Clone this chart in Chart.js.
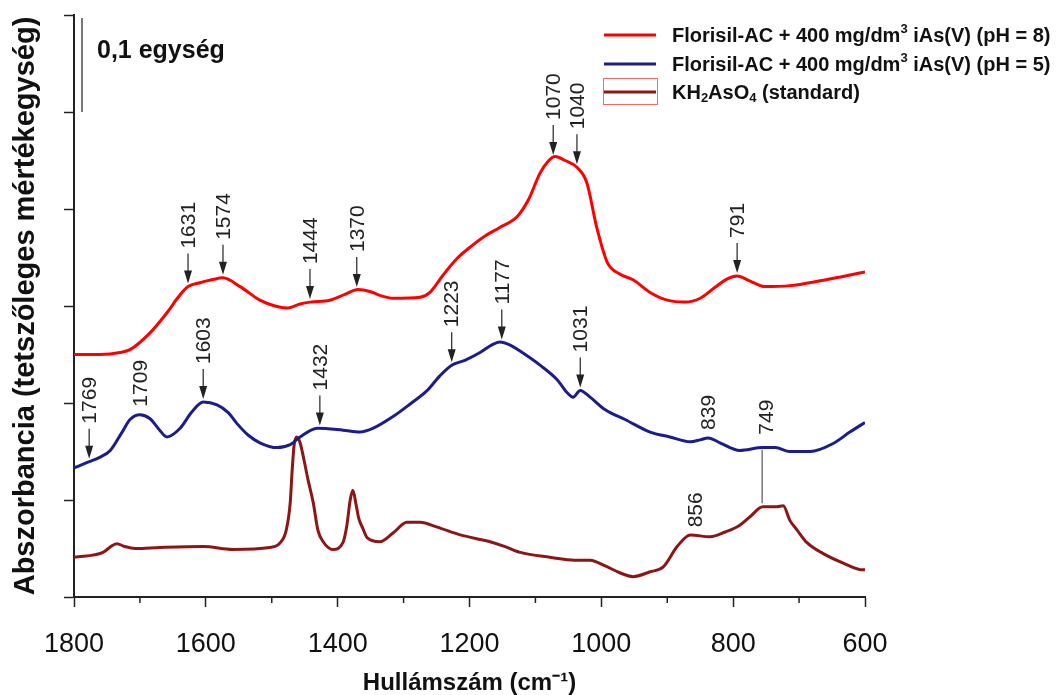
<!DOCTYPE html>
<html>
<head>
<meta charset="utf-8">
<title>FTIR spektrumok</title>
<script src="https://cdn.jsdelivr.net/npm/chart.js@4.4.1/dist/chart.umd.min.js"></script>
<style>
  body { margin: 0; background: #fff; }
  canvas { display: block; }
</style>
</head>
<body>
<canvas id="spektrum" width="1058" height="695"></canvas>
<script>
// hullámszám (cm-1) és abszorbancia értékek, leolvasva

// Florisil-AC + 400 mg/dm3 iAs(V), pH = 8
var ph8X = [1800, 1761, 1730, 1715, 1685, 1659, 1642, 1627, 1609, 1591, 1574, 1548, 1518, 1495, 1477, 1457,
            1442, 1412, 1389, 1369, 1351, 1336, 1316, 1275, 1260, 1240, 1219, 1204, 1177, 1154, 1128, 1111,
            1093, 1081, 1070, 1055, 1037, 1022, 1007, 991, 972, 952, 926, 900, 873, 850, 828, 809, 794, 775,
            752, 714, 668, 630, 600];
var ph8Y = [0.250, 0.250, 0.252, 0.255, 0.272, 0.293, 0.309, 0.320, 0.324, 0.327, 0.329, 0.320, 0.306, 0.300, 0.298, 0.302,
            0.304, 0.306, 0.312, 0.317, 0.315, 0.311, 0.308, 0.309, 0.314, 0.332, 0.349, 0.358, 0.372, 0.381, 0.392, 0.409,
            0.437, 0.449, 0.454, 0.450, 0.443, 0.427, 0.381, 0.345, 0.333, 0.327, 0.314, 0.306, 0.304, 0.308, 0.319, 0.328, 0.331, 0.326,
            0.320, 0.321, 0.326, 0.331, 0.335];

// Florisil-AC + 400 mg/dm3 iAs(V), pH = 5
var ph5X = [1800, 1779, 1761, 1745, 1727, 1715, 1700, 1685, 1670, 1659, 1639, 1621, 1604, 1583, 1566, 1553,
            1536, 1518, 1492, 1472, 1457, 1431, 1392, 1366, 1346, 1316, 1290, 1264, 1245, 1227, 1207, 1184,
            1166, 1154, 1139, 1120, 1093, 1067, 1051, 1043, 1032, 1017, 994, 964, 926, 896, 865, 850, 838,
            820, 790, 755, 736, 714, 683, 649, 623, 600];
var ph5Y = [0.133, 0.139, 0.144, 0.151, 0.170, 0.183, 0.188, 0.184, 0.172, 0.165, 0.174, 0.191, 0.201, 0.198, 0.190, 0.179,
            0.167, 0.159, 0.154, 0.157, 0.165, 0.174, 0.172, 0.170, 0.174, 0.186, 0.199, 0.213, 0.228, 0.239, 0.244, 0.252,
            0.260, 0.263, 0.260, 0.252, 0.239, 0.224, 0.210, 0.206, 0.213, 0.206, 0.193, 0.183, 0.170, 0.165, 0.160, 0.162, 0.164,
            0.159, 0.151, 0.154, 0.154, 0.150, 0.150, 0.158, 0.170, 0.180];

// KH2AsO4 (standard)
var stdX = [1800, 1756, 1742, 1735, 1723, 1707, 1670, 1604, 1559, 1503, 1487, 1478, 1472, 1469, 1466, 1462,
            1457, 1451, 1445, 1437, 1430, 1422, 1407, 1392, 1386, 1381, 1377, 1372, 1368, 1362, 1355, 1336,
            1316, 1295, 1275, 1249, 1214, 1169, 1146, 1123, 1078, 1040, 1017, 994, 972, 952, 926, 906, 885,
            865, 835, 812, 790, 774, 755, 734, 724, 714, 703, 688, 664, 633, 603, 600];
var stdY = [0.041, 0.046, 0.053, 0.055, 0.052, 0.050, 0.051, 0.052, 0.049, 0.051, 0.056, 0.069, 0.097, 0.131, 0.157, 0.165,
            0.159, 0.141, 0.121, 0.097, 0.069, 0.057, 0.049, 0.056, 0.074, 0.100, 0.110, 0.095, 0.081, 0.071, 0.061, 0.057,
            0.066, 0.077, 0.077, 0.072, 0.064, 0.057, 0.052, 0.046, 0.041, 0.038, 0.038, 0.032, 0.025, 0.021, 0.026, 0.031, 0.052,
            0.064, 0.062, 0.067, 0.074, 0.083, 0.093, 0.093, 0.094, 0.079, 0.069, 0.056, 0.045, 0.035, 0.028, 0.028];

// csúcsjelölések: felirat, hullámszám, melyik görbe (0 = pH 8, 1 = pH 5, 2 = standard)
var csucsok = [
    { text: '1631', at: 1627, sorozat: 0, nyil: true },
    { text: '1574', at: 1574, sorozat: 0, nyil: true },
    { text: '1444', at: 1442, sorozat: 0, nyil: true },
    { text: '1370', at: 1371, sorozat: 0, nyil: true },
    { text: '1070', at: 1073, sorozat: 0, nyil: true },
    { text: '1040', at: 1037, sorozat: 0, nyil: true },
    { text: '791',  at: 794,  sorozat: 0, nyil: true },
    { text: '1769', at: 1777, sorozat: 1, nyil: true },
    { text: '1709', at: 1700, sorozat: 1, nyil: false },
    { text: '1603', at: 1604, sorozat: 1, nyil: true },
    { text: '1432', at: 1427, sorozat: 1, nyil: true },
    { text: '1223', at: 1227, sorozat: 1, nyil: true },
    { text: '1177', at: 1151, sorozat: 1, nyil: true },
    { text: '1031', at: 1032, sorozat: 1, nyil: true },
    { text: '839',  at: 838,  sorozat: 1, nyil: false },
    { text: '856',  at: 858,  sorozat: 2, nyil: false }
];
// 749: vonal a pH 5 görbétől a standardig
var kozosCsucs = { text: '749', at: 756 };

var szinek = ['#ff0000', '#1c1c8c', '#8c1616'];
var sorozatX = [ph8X, ph5X, stdX];
var sorozatY = [ph8Y, ph5Y, stdY];

function pontok(xs, ys) {
    return xs.map(function (x, i) { return { x: x, y: ys[i] }; });
}

// lineáris interpoláció a görbén
function ertekNal(s, wn) {
    var xs = sorozatX[s], ys = sorozatY[s];
    for (var i = 0; i < xs.length - 1; i++) {
        if (wn <= xs[i] && wn >= xs[i + 1]) {
            var t = (xs[i] - wn) / (xs[i] - xs[i + 1]);
            return ys[i] + t * (ys[i + 1] - ys[i]);
        }
    }
    return ys[ys.length - 1];
}

var FONT = "'Liberation Sans', Arial, sans-serif";
Chart.defaults.font.family = FONT;

function forgatottSzoveg(ctx, text, x, yAlso) {
    ctx.save();
    ctx.translate(x, yAlso);
    ctx.rotate(-Math.PI / 2);
    ctx.textAlign = 'left';
    ctx.textBaseline = 'middle';
    ctx.fillText(text, 0, 0);
    ctx.restore();
}

// felső-/alsó indexes szöveg rajzolása
function gazdagSzoveg(ctx, reszek, x, y, meret) {
    reszek.forEach(function (r) {
        var m = r[1] ? meret * 0.65 : meret;
        var dy = r[1] === 'sup' ? -meret * 0.35 : (r[1] === 'sub' ? meret * 0.28 : 0);
        ctx.font = 'bold ' + m + 'px ' + FONT;
        ctx.fillText(r[0], x, y + dy);
        x += ctx.measureText(r[0]).width;
    });
}

var jelolesek = {
    id: 'jelolesek',
    afterDraw: function (chart) {
        var ctx = chart.ctx;
        var xs = chart.scales.x, ys = chart.scales.y;

        // kisebb osztások az x tengelyen
        ctx.save();
        ctx.strokeStyle = '#222';
        ctx.lineWidth = 1.5;
        for (var v = 700; v < 1800; v += 200) {
            var px = xs.getPixelForValue(v);
            ctx.beginPath();
            ctx.moveTo(px, chart.chartArea.bottom);
            ctx.lineTo(px, chart.chartArea.bottom + 6);
            ctx.stroke();
        }
        ctx.restore();

        // csúcsfeliratok és nyilak
        ctx.save();
        ctx.fillStyle = '#222';
        ctx.strokeStyle = '#222';
        ctx.font = '21px ' + FONT;
        csucsok.forEach(function (c) {
            var px = xs.getPixelForValue(c.at);
            var gorbe = ys.getPixelForValue(ertekNal(c.sorozat, c.at));
            if (c.nyil) {
                var csucs = gorbe - 3;
                ctx.lineWidth = 1.2;
                ctx.beginPath();
                ctx.moveTo(px, csucs - 30);
                ctx.lineTo(px, csucs - 10);
                ctx.stroke();
                ctx.beginPath();
                ctx.moveTo(px - 4, csucs - 13);
                ctx.lineTo(px + 4, csucs - 13);
                ctx.lineTo(px, csucs);
                ctx.closePath();
                ctx.fill();
                forgatottSzoveg(ctx, c.text, px + 1, csucs - 35);
            } else {
                forgatottSzoveg(ctx, c.text, px + 1, gorbe - 8);
            }
        });

        var lx = xs.getPixelForValue(kozosCsucs.at);
        var felso = ys.getPixelForValue(ertekNal(1, kozosCsucs.at));
        var also = ys.getPixelForValue(ertekNal(2, kozosCsucs.at));
        ctx.strokeStyle = '#777';
        ctx.lineWidth = 1.5;
        ctx.beginPath();
        ctx.moveTo(lx, felso + 2);
        ctx.lineTo(lx, also - 4);
        ctx.stroke();
        forgatottSzoveg(ctx, kozosCsucs.text, lx + 5, felso - 13);

        // 0,1 egység skálavonal
        var sx = chart.chartArea.left + 8;
        ctx.strokeStyle = '#777';
        ctx.lineWidth = 2;
        ctx.beginPath();
        ctx.moveTo(sx, ys.getPixelForValue(0.597));
        ctx.lineTo(sx, ys.getPixelForValue(0.5));
        ctx.stroke();
        ctx.fillStyle = '#111';
        ctx.font = 'bold 25px ' + FONT;
        ctx.textAlign = 'left';
        ctx.textBaseline = 'middle';
        ctx.fillText('0,1 egység', sx + 15, 51);

        // jelmagyarázat
        var sorok = [
            [['Florisil-AC + 400 mg/dm', ''], ['3', 'sup'], [' iAs(V) (pH = 8)', '']],
            [['Florisil-AC + 400 mg/dm', ''], ['3', 'sup'], [' iAs(V) (pH = 5)', '']],
            [['KH', ''], ['2', 'sub'], ['AsO', ''], ['4', 'sub'], [' (standard)', '']]
        ];
        var sorY = [35, 64, 92];
        sorok.forEach(function (reszek, i) {
            var y = sorY[i];
            if (i === 2) {
                ctx.strokeStyle = '#f06a6a';
                ctx.lineWidth = 1;
                ctx.strokeRect(603.5, y - 13.5, 54, 26);
            }
            ctx.strokeStyle = szinek[i];
            ctx.lineWidth = 3;
            ctx.beginPath();
            ctx.moveTo(604, y);
            ctx.lineTo(656, y);
            ctx.stroke();
            ctx.fillStyle = '#111';
            ctx.textBaseline = 'middle';
            gazdagSzoveg(ctx, reszek, 672, y + 1, 20);
        });
        ctx.restore();
    }
};

var nevek = ['Florisil-AC + 400 mg/dm³ iAs(V) (pH = 8)', 'Florisil-AC + 400 mg/dm³ iAs(V) (pH = 5)', 'KH₂AsO₄ (standard)'];

new Chart(document.getElementById('spektrum'), {
    type: 'line',
    data: {
        datasets: [0, 1, 2].map(function (i) {
            return {
                label: nevek[i],
                data: pontok(sorozatX[i], sorozatY[i]),
                borderColor: szinek[i],
                borderWidth: 3,
                pointRadius: 0,
                fill: false,
                cubicInterpolationMode: 'monotone'
            };
        })
    },
    options: {
        responsive: false,
        animation: false,
        layout: { padding: { top: 15, right: 193, left: 0, bottom: 0 } },
        plugins: {
            legend: { display: false },
            tooltip: { enabled: false }
        },
        scales: {
            x: {
                type: 'linear',
                reverse: true,
                min: 600,
                max: 1800,
                ticks: {
                    stepSize: 100,
                    autoSkip: false,
                    maxRotation: 0,
                    padding: 21,
                    color: '#111',
                    font: { size: 27 },
                    callback: function (v) { return v % 200 === 0 ? String(v) : ''; }
                },
                grid: {
                    drawOnChartArea: false,
                    tickLength: 10,
                    tickWidth: 1.5,
                    tickColor: function (c) { return c.tick && c.tick.value % 200 === 0 ? '#222' : 'rgba(0,0,0,0)'; }
                },
                border: { color: '#222', width: 2 },
                title: {
                    display: true,
                    text: 'Hullámszám (cm⁻¹)',
                    color: '#111',
                    font: { size: 24, weight: 'bold', lineHeight: 1 },
                    padding: 0
                },
                afterFit: function (s) { s.height = 98; }
            },
            y: {
                min: 0,
                max: 0.6,
                ticks: { stepSize: 0.1, display: false },
                grid: {
                    drawOnChartArea: false,
                    tickLength: 10,
                    tickWidth: 1.5,
                    tickColor: '#222'
                },
                border: { color: '#222', width: 2 },
                title: {
                    display: true,
                    text: 'Abszorbancia (tetszőleges mértékegység)',
                    color: '#111',
                    font: { size: 29, weight: 'bold' },
                    padding: { top: 9, bottom: 0 }
                },
                afterFit: function (s) { s.width = 74; }
            }
        }
    },
    plugins: [jelolesek]
});
</script>
</body>
</html>
